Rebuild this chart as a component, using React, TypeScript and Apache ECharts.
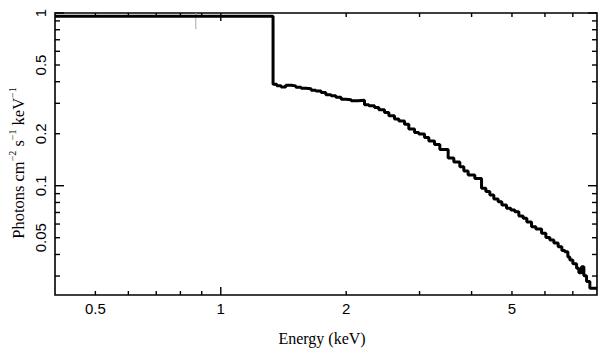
import React, { useEffect, useRef } from "react";
import * as echarts from "echarts";

// Spectrum (bin left edges in keV, flux in photons cm^-2 s^-1 keV^-1)
const ENERGY = [0.4, 1.335, 1.363, 1.396, 1.432, 1.475, 1.514, 1.559, 1.6, 1.648, 1.691, 1.741, 1.787, 1.84, 1.889, 1.945, 1.996, 2.055, 2.133, 2.213, 2.267, 2.339, 2.396, 2.472, 2.532, 2.612, 2.676, 2.761, 2.827, 2.918, 2.988, 3.084, 3.158, 3.259, 3.356, 3.514, 3.626, 3.748, 3.832, 3.924, 4.072, 4.226, 4.328, 4.425, 4.523, 4.632, 4.728, 4.852, 4.969, 5.08, 5.194, 5.319, 5.428, 5.572, 5.706, 5.889, 6.03, 6.165, 6.303, 6.454, 6.588, 6.698, 6.81, 6.886, 7.001, 7.146, 7.237, 7.346, 7.44, 7.552, 7.69, 8.0];
const FLUX = [0.957, 0.387, 0.3795, 0.3735, 0.382, 0.3785, 0.372, 0.3671, 0.3647, 0.3574, 0.3536, 0.3466, 0.3366, 0.3313, 0.3256, 0.3171, 0.315, 0.31, 0.3129, 0.2939, 0.2908, 0.2839, 0.2757, 0.2656, 0.2545, 0.243, 0.2366, 0.2273, 0.2127, 0.2036, 0.199, 0.1904, 0.1813, 0.173, 0.1619, 0.1446, 0.1371, 0.1288, 0.1216, 0.1153, 0.11, 0.0966, 0.0926, 0.0884, 0.0838, 0.0808, 0.0774, 0.074, 0.0724, 0.0708, 0.0668, 0.0648, 0.0617, 0.0579, 0.0562, 0.0531, 0.0502, 0.0485, 0.0466, 0.0444, 0.0422, 0.0415, 0.0387, 0.0372, 0.0353, 0.0333, 0.0313, 0.0339, 0.0301, 0.0279, 0.0255, 0.0255];

// small error bar on first bin
const ERR_ENERGY = [0.871, 0.871];
const ERR_FLUX = [0.805, 1.0];

const X_MIN = 0.4;
const X_MAX = 8;
const Y_MIN = 0.0233;
const Y_MAX = 1;

const X_TICKS = [0.5, 0.6, 0.7, 0.8, 0.9, 1, 2, 3, 4, 5, 6, 7];
const X_MAJOR_TICKS = [1];
const X_LABEL_VALUES = [0.5, 1, 2, 5];
const X_LABELS = ["0.5", "1", "2", "5"];

const Y_TICKS = [1, 0.9, 0.8, 0.7, 0.6, 0.5, 0.4, 0.3, 0.2, 0.1, 0.09, 0.08, 0.07, 0.06, 0.05, 0.04, 0.03];
const Y_MAJOR_TICKS = [1, 0.1];
const Y_LABEL_VALUES = [1, 0.5, 0.2, 0.1, 0.05];
const Y_LABELS = ["1", "0.5", "0.2", "0.1", "0.05"];

const TICK_FONT = '15px "Liberation Sans", Arial, sans-serif';
const SERIF = '"Liberation Serif", "Times New Roman", serif';

export default function App() {
  const ref = useRef<HTMLDivElement>(null);
  useEffect(() => {
    if (!ref.current) return;
    const chart = echarts.init(ref.current, null, { renderer: "svg" });
    const tickStyle = { stroke: "#000", lineWidth: 1.4 };
    const option: any = {
      animation: false,
      backgroundColor: "#fff",
      grid: {
        left: 55,
        right: 12,
        top: 13,
        bottom: 62,
        show: true,
        borderColor: "#000",
        borderWidth: 1.6,
        backgroundColor: "transparent",
      },
      xAxis: {
        type: "log",
        logBase: 10,
        min: X_MIN,
        max: X_MAX,
        axisLine: { show: false },
        axisTick: { show: false },
        axisLabel: { show: false },
        splitLine: { show: false },
        minorTick: { show: false },
      },
      yAxis: {
        type: "log",
        logBase: 10,
        min: Y_MIN,
        max: Y_MAX,
        axisLine: { show: false },
        axisTick: { show: false },
        axisLabel: { show: false },
        splitLine: { show: false },
        minorTick: { show: false },
      },
      graphic: [
        {
          type: "text",
          x: 322,
          y: 338,
          style: {
            text: "Energy (keV)",
            font: `16px ${SERIF}`,
            fill: "#000",
            align: "center",
            verticalAlign: "middle",
          },
        },
        {
          type: "text",
          x: 17,
          y: 163,
          rotation: Math.PI / 2,
          style: {
            text: "{a|Photons cm}{s|−2}{a| s}{s|−1}{a| keV}{s|−1}",
            align: "center",
            verticalAlign: "middle",
            fill: "#000",
            rich: {
              a: { fontFamily: SERIF, fontSize: 16.5, lineHeight: 19, fill: "#000", verticalAlign: "bottom" },
              s: { fontFamily: SERIF, fontSize: 10, lineHeight: 19, fill: "#000", verticalAlign: "top", padding: [0, 0, 6, 0] },
            },
          },
        },
      ],
      series: [
        {
          type: "line",
          step: "end",
          symbol: "none",
          silent: true,
          data: ENERGY.map((e, i) => [e, FLUX[i]]),
          lineStyle: { color: "#000", width: 3 },
          z: 5,
        },
        {
          type: "line",
          symbol: "none",
          silent: true,
          data: ERR_ENERGY.map((e, i) => [e, ERR_FLUX[i]]),
          lineStyle: { color: "#aaa", width: 1 },
          z: 4,
        },
        {
          type: "custom",
          silent: true,
          data: X_TICKS.map((v) => [v, Y_MIN]),
          renderItem: (params: any, api: any) => {
            const v = api.value(0);
            const b = api.coord([v, Y_MIN]);
            const t = api.coord([v, Y_MAX]);
            const len = X_MAJOR_TICKS.includes(v) ? 8 : 4;
            return {
              type: "group",
              children: [
                { type: "line", shape: { x1: b[0], y1: b[1], x2: b[0], y2: b[1] - len }, style: tickStyle },
                { type: "line", shape: { x1: t[0], y1: t[1], x2: t[0], y2: t[1] + len }, style: tickStyle },
              ],
            };
          },
          z: 6,
        },
        {
          type: "custom",
          silent: true,
          data: Y_TICKS.map((v) => [X_MIN, v]),
          renderItem: (params: any, api: any) => {
            const v = api.value(1);
            const l = api.coord([X_MIN, v]);
            const r = api.coord([X_MAX, v]);
            const len = Y_MAJOR_TICKS.includes(v) ? 9 : 5;
            return {
              type: "group",
              children: [
                { type: "line", shape: { x1: l[0], y1: l[1], x2: l[0] + len, y2: l[1] }, style: tickStyle },
                { type: "line", shape: { x1: r[0], y1: r[1], x2: r[0] - len, y2: r[1] }, style: tickStyle },
              ],
            };
          },
          z: 6,
        },
        {
          type: "custom",
          silent: true,
          data: X_LABEL_VALUES.map((v) => [v, Y_MIN]),
          renderItem: (params: any, api: any) => {
            const p = api.coord([api.value(0), Y_MIN]);
            return {
              type: "text",
              x: p[0],
              y: p[1] + 13,
              style: {
                text: X_LABELS[params.dataIndex],
                font: TICK_FONT,
                fill: "#000",
                align: "center",
                verticalAlign: "middle",
              },
            };
          },
          z: 6,
        },
        {
          type: "custom",
          silent: true,
          data: Y_LABEL_VALUES.map((v) => [X_MIN, v]),
          renderItem: (params: any, api: any) => {
            const p = api.coord([X_MIN, api.value(1)]);
            return {
              type: "text",
              x: p[0] - 15,
              y: p[1],
              rotation: Math.PI / 2,
              style: {
                text: Y_LABELS[params.dataIndex],
                font: TICK_FONT,
                fill: "#000",
                align: "center",
                verticalAlign: "middle",
              },
            };
          },
          z: 6,
        },
      ],
    };
    chart.setOption(option);
    return () => chart.dispose();
  }, []);
  return (
    <div
      ref={ref}
      style={{ position: "fixed", left: 0, top: 0, width: 609, height: 357, background: "#fff" }}
    />
  );
}
